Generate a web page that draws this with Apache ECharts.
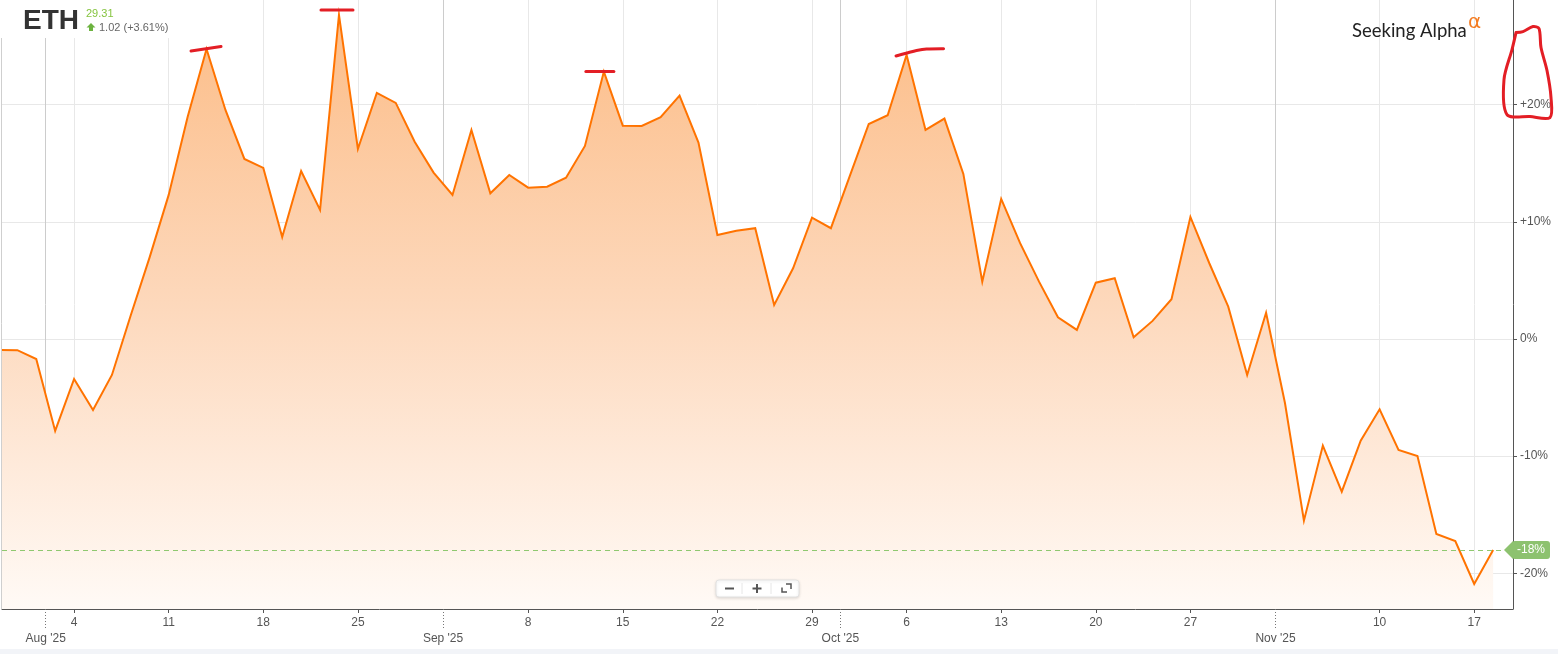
<!DOCTYPE html>
<html>
<head>
<meta charset="utf-8">
<title>ETH</title>
<script src="https://cdn.jsdelivr.net/npm/echarts@6/dist/echarts.min.js"></script>
<style>
    html, body { margin: 0; padding: 0; background: #fff; }
    #chart { width: 1558px; height: 654px; }
</style>
</head>
<body>
<div id="chart"></div>
<script>
    // trading days shown on the chart
    var dates = [
        '2025-07-29', '2025-07-30', '2025-07-31', '2025-08-01',
        '2025-08-04', '2025-08-05', '2025-08-06', '2025-08-07', '2025-08-08',
        '2025-08-11', '2025-08-12', '2025-08-13', '2025-08-14', '2025-08-15',
        '2025-08-18', '2025-08-19', '2025-08-20', '2025-08-21', '2025-08-22',
        '2025-08-25', '2025-08-26', '2025-08-27', '2025-08-28', '2025-08-29',
        '2025-09-02', '2025-09-03', '2025-09-04', '2025-09-05',
        '2025-09-08', '2025-09-09', '2025-09-10', '2025-09-11', '2025-09-12',
        '2025-09-15', '2025-09-16', '2025-09-17', '2025-09-18', '2025-09-19',
        '2025-09-22', '2025-09-23', '2025-09-24', '2025-09-25', '2025-09-26',
        '2025-09-29', '2025-09-30', '2025-10-01', '2025-10-02', '2025-10-03',
        '2025-10-06', '2025-10-07', '2025-10-08', '2025-10-09', '2025-10-10',
        '2025-10-13', '2025-10-14', '2025-10-15', '2025-10-16', '2025-10-17',
        '2025-10-20', '2025-10-21', '2025-10-22', '2025-10-23', '2025-10-24',
        '2025-10-27', '2025-10-28', '2025-10-29', '2025-10-30', '2025-10-31',
        '2025-11-03', '2025-11-04', '2025-11-05', '2025-11-06', '2025-11-07',
        '2025-11-10', '2025-11-11', '2025-11-12', '2025-11-13', '2025-11-14',
        '2025-11-17', '2025-11-18'
    ];

    // % change
    var pctChange = [
        -0.94, -0.96, -1.71, -7.85,
        -3.41, -6.06, -3.07, 2.05, 7.0,
        12.29, 18.94, 24.74, 19.54, 15.36,
        14.59, 8.70, 14.33, 11.01, 27.65,
        16.21, 20.99, 20.14, 16.83, 14.19,
        12.29, 17.83, 12.43, 13.99,
        12.91, 12.99, 13.76, 16.47, 22.81,
        18.20, 18.17, 18.92, 20.76, 16.75,
        8.87, 9.24, 9.45, 2.90, 6.03,
        10.35, 9.45, 13.91, 18.34, 19.09,
        24.23, 17.83, 18.80, 14.08, 4.89,
        11.95, 8.17, 4.89, 1.85, 0.77,
        4.80, 5.18, 0.15, 1.54, 3.39,
        10.41, 6.46, 2.76, -3.07, 2.24,
        -5.49, -15.50, -9.10, -13.03, -8.68,
        -6.00, -9.47, -9.98, -16.64, -17.24,
        -20.90, -18.00
    ];

    var yTicks = [-20, -10, 0, 10, 20];
    var monthLabels = ["Aug '25", "Sep '25", "Oct '25", "Nov '25"];
    var lastLabel = '-18%';
    var peakMarks = [11, 18, 32, 48];   // the hand drawn red strokes sit on these peaks

    var ticker = 'ETH';
    var price = '29.31';
    var change = '1.02 (+3.61%)';

    function parseDay(d) {
        var p = d.split('-');
        return new Date(Date.UTC(+p[0], +p[1] - 1, +p[2]));
    }

    // week ticks on first trading day of a week, month ticks between months
    var dayTicks = [];
    var monthTicks = [];
    for (var i = 1; i < dates.length; i++) {
        var a = parseDay(dates[i - 1]), b = parseDay(dates[i]);
        if (a.getUTCMonth() !== b.getUTCMonth()) {
            monthTicks.push(i - 0.5);
        } else if (b.getUTCDay() < a.getUTCDay()) {
            dayTicks.push(i);
        }
    }

    var lineData = pctChange.map(function (v, i) { return [i, v]; });
    var lastValue = pctChange[pctChange.length - 1];
    var xMin = 0.19, xMax = 80.05;

    var chart = echarts.init(document.getElementById('chart'));
    var font = '"Liberation Sans", Arial, sans-serif';

    var option = {
        animation: false,
        textStyle: { fontFamily: font },
        grid: { left: 2, right: 45, top: 0, bottom: 45, outerBoundsMode: 'none' },
        xAxis: [{
            type: 'value', min: xMin, max: xMax, position: 'bottom',
            axisLine: { show: true, onZero: false, lineStyle: { color: '#555' } },
            axisTick: { show: true, customValues: dayTicks, length: 4, lineStyle: { color: '#555' } },
            axisLabel: {
                customValues: dayTicks, color: '#555', fontSize: 12, margin: 8,
                formatter: function (v) { return String(parseDay(dates[Math.round(v)]).getUTCDate()); }
            },
            splitLine: { show: true, lineStyle: { color: '#e8e8e8' } }
        }, {
            type: 'value', min: xMin, max: xMax, position: 'bottom',
            axisLine: { show: false, onZero: false },
            axisTick: { show: true, customValues: monthTicks, length: 19, lineStyle: { color: '#777', type: [1, 2] } },
            axisLabel: {
                customValues: monthTicks, color: '#555', fontSize: 12, margin: 24,
                formatter: function (v) {
                    for (var k = 0; k < monthTicks.length; k++) {
                        if (Math.abs(monthTicks[k] - v) < 0.01) return monthLabels[k];
                    }
                    return '';
                }
            },
            splitLine: { show: true, lineStyle: { color: '#cccccc' } }
        }],
        yAxis: {
            type: 'value', position: 'right', min: -23.04, max: 28.92,
            axisLine: { show: true, onZero: false, lineStyle: { color: '#555' } },
            axisTick: { show: true, customValues: yTicks, length: 4, lineStyle: { color: '#555' } },
            axisLabel: {
                customValues: yTicks, color: '#555', fontSize: 12, margin: 7,
                formatter: function (v) { return (v > 0 ? '+' : '') + v + '%'; }
            },
            splitLine: { show: true, lineStyle: { color: '#e8e8e8' } }
        },
        series: [{
            type: 'line',
            data: lineData,
            symbol: 'none',
            clip: true,
            lineStyle: { color: '#ff7300', width: 2, join: 'miter', miterLimit: 10 },
            itemStyle: { color: '#ff7300' },
            areaStyle: {
                origin: 'start',
                opacity: 1,
                color: new echarts.graphic.LinearGradient(0, 0, 0, 1, [
                    { offset: 0, color: '#fcbd88' },
                    { offset: 0.5, color: '#fdd9bd' },
                    { offset: 1, color: '#fffaf6' }
                ])
            },
            markLine: {
                silent: true,
                symbol: 'none',
                data: [{ yAxis: lastValue }],
                lineStyle: { color: '#8fc870', type: [5, 4], width: 1 },
                label: { show: false }
            }
        }]
    };
    chart.setOption(option);

    // overlays, placed with the chart's own scales
    var right = chart.convertToPixel({ xAxisIndex: 0 }, xMax);
    var tagY = chart.convertToPixel({ yAxisIndex: 0 }, lastValue);
    var y20 = chart.convertToPixel({ yAxisIndex: 0 }, 20);
    var red = { stroke: '#e31e25', lineWidth: 3, lineCap: 'round', lineJoin: 'round', fill: null };

    var peakOffsets = [
        [[-15.5, 2], [14.5, -2.5]],
        [[-18, -5], [14, -5]],
        [[-18, 0], [10, 0]],
        [[-10.6, 1], [0.4, -2], [10, -4.5], [20, -6], [37, -6.3]]
    ];
    var loop = [[3, -72], [10, -73], [20, -78], [26, -76], [28, -57], [34, -34], [38, -7],
                [37, 13], [17, 12], [-6, 10], [-9, -25], [-1, -55], [3, -72]];

    var graphics = [
        { type: 'rect', z: 100, shape: { x: 0, y: 0, width: 176, height: 38 }, style: { fill: '#fff' } },
        { type: 'text', z: 101, x: 23, y: 21, style: { text: ticker, font: 'bold 28px ' + font, fill: '#333', verticalAlign: 'middle' } },
        { type: 'text', z: 101, x: 86, y: 14, style: { text: price, font: '11px ' + font, fill: '#86c440', verticalAlign: 'middle' } },
        { type: 'polygon', z: 101, shape: { points: [[91, 23], [95.5, 27.5], [93, 27.5], [93, 31], [89, 31], [89, 27.5], [86.5, 27.5]] }, style: { fill: '#6cb33f' } },
        { type: 'text', z: 101, x: 99, y: 27.5, style: { text: change, font: '11px ' + font, fill: '#666', verticalAlign: 'middle' } },

        { type: 'text', z: 101, x: 1352, y: 31, style: { text: 'Seeking Alpha', font: '18.5px Lato, "Open Sans", sans-serif', fill: '#222', verticalAlign: 'middle' } },
        { type: 'text', z: 101, x: 1468, y: 23, style: { text: 'α', font: '20px "DejaVu Sans", sans-serif', fill: '#f47b20', verticalAlign: 'middle' } },

        { type: 'line', z: 100, shape: { x1: 1.5, y1: 38, x2: 1.5, y2: 609 }, style: { stroke: '#cfcfcf', lineWidth: 1 } },
        { type: 'rect', z: 100, shape: { x: 0, y: 649, width: 1558, height: 5 }, style: { fill: '#f2f4f8' } },

        // zoom buttons
        { type: 'rect', z: 100, shape: { x: 716, y: 580, width: 83, height: 17, r: 3 },
          style: { fill: '#fff', stroke: '#e2e2e2', lineWidth: 1, shadowBlur: 3, shadowColor: 'rgba(0,0,0,0.12)', shadowOffsetY: 1 } },
        { type: 'line', z: 101, shape: { x1: 742, y1: 583, x2: 742, y2: 594 }, style: { stroke: '#e6e6e6' } },
        { type: 'line', z: 101, shape: { x1: 771, y1: 583, x2: 771, y2: 594 }, style: { stroke: '#e6e6e6' } },
        { type: 'line', z: 101, shape: { x1: 725, y1: 588.5, x2: 734, y2: 588.5 }, style: { stroke: '#555', lineWidth: 2 } },
        { type: 'line', z: 101, shape: { x1: 752.5, y1: 588.5, x2: 761.5, y2: 588.5 }, style: { stroke: '#555', lineWidth: 2 } },
        { type: 'line', z: 101, shape: { x1: 757, y1: 584, x2: 757, y2: 593 }, style: { stroke: '#555', lineWidth: 2 } },
        { type: 'polyline', z: 101, shape: { points: [[786, 584], [791, 584], [791, 589]] }, style: { stroke: '#555', lineWidth: 1.5, fill: null } },
        { type: 'polyline', z: 101, shape: { points: [[782, 587.5], [782, 592], [787, 592]] }, style: { stroke: '#555', lineWidth: 1.5, fill: null } },

        // last value tag
        { type: 'polygon', z: 101, shape: { points: [[right - 9, tagY], [right, tagY - 9], [right, tagY + 9]] }, style: { fill: '#8dc26f' } },
        { type: 'rect', z: 101, shape: { x: right - 1, y: tagY - 9, width: 38, height: 18, r: 3 }, style: { fill: '#8dc26f' } },
        { type: 'text', z: 102, x: right + 18, y: tagY, style: { text: lastLabel, font: '12px ' + font, fill: '#fff', align: 'center', verticalAlign: 'middle' } },

        { type: 'polyline', z: 103, shape: { points: loop.map(function (p) { return [right + p[0], y20 + p[1]]; }), smooth: 0.3 }, style: red }
    ];

    peakMarks.forEach(function (idx, k) {
        var pt = chart.convertToPixel({ seriesIndex: 0 }, lineData[idx]);
        graphics.push({
            type: 'polyline', z: 103,
            shape: { points: peakOffsets[k].map(function (o) { return [pt[0] + o[0], pt[1] + o[1]]; }), smooth: 0.3 },
            style: red
        });
    });

    chart.setOption({ graphic: graphics });
</script>
</body>
</html>
